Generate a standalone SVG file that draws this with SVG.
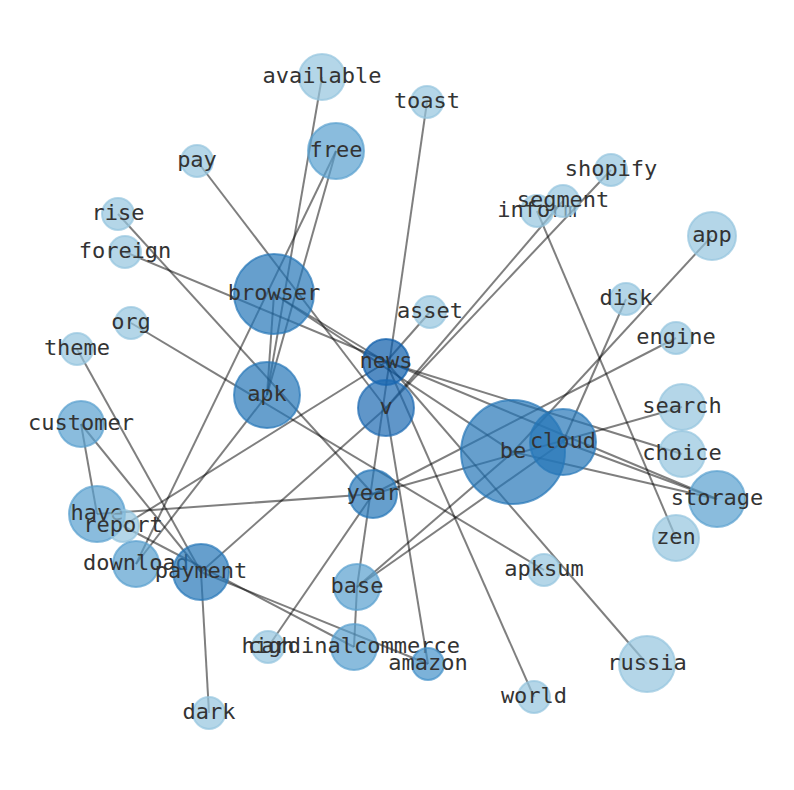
<svg xmlns="http://www.w3.org/2000/svg" width="794" height="790" viewBox="0 0 794 790">
<style>
.e{stroke:#000;stroke-opacity:0.5;stroke-width:2;fill:none}
.n circle{stroke-width:2;fill-opacity:0.7;stroke-opacity:0.7}
.l circle{fill:#94c4de;stroke:#94c4de}
.m circle{fill:#599fce;stroke:#599fce}
.a circle{fill:#4591c9;stroke:#4591c9}
.d circle{fill:#2576b8;stroke:#2576b8}
.v circle{fill:#1c6ab2;stroke:#1c6ab2}
.w circle{fill:#0a5ba9;stroke:#0a5ba9}
.n text{font-family:"DejaVu Sans Mono","Liberation Mono",monospace;font-size:22px;fill:#333;text-anchor:middle}
</style>
<rect width="794" height="790" fill="#fff"/>
<g id="edges" class="e">
<line x1="322" y1="77" x2="267" y2="395"/>
<line x1="274" y1="294" x2="267" y2="395"/>
<line x1="336" y1="151" x2="267" y2="395"/>
<line x1="336" y1="151" x2="136" y2="564"/>
<line x1="267" y1="395" x2="136" y2="564"/>
<line x1="197" y1="161" x2="386" y2="408"/>
<line x1="118" y1="214" x2="373" y2="494"/>
<line x1="131" y1="323" x2="544" y2="570"/>
<line x1="125" y1="252" x2="717" y2="499"/>
<line x1="427" y1="102" x2="357" y2="587"/>
<line x1="357" y1="587" x2="354" y2="647"/>
<line x1="386" y1="408" x2="428" y2="664"/>
<line x1="611" y1="170" x2="386" y2="408"/>
<line x1="563" y1="201" x2="386" y2="408"/>
<line x1="537" y1="211" x2="676" y2="538"/>
<line x1="712" y1="236" x2="513" y2="452"/>
<line x1="626" y1="299" x2="563" y2="442"/>
<line x1="676" y1="338" x2="373" y2="494"/>
<line x1="430" y1="312" x2="386" y2="362"/>
<line x1="386" y1="362" x2="682" y2="454"/>
<line x1="563" y1="442" x2="717" y2="499"/>
<line x1="513" y1="452" x2="717" y2="499"/>
<line x1="274" y1="294" x2="513" y2="452"/>
<line x1="274" y1="294" x2="386" y2="362"/>
<line x1="386" y1="362" x2="647" y2="664"/>
<line x1="386" y1="362" x2="534" y2="697"/>
<line x1="386" y1="362" x2="123" y2="526"/>
<line x1="386" y1="408" x2="201" y2="572"/>
<line x1="97" y1="514" x2="373" y2="494"/>
<line x1="373" y1="494" x2="682" y2="407"/>
<line x1="81" y1="424" x2="97" y2="514"/>
<line x1="81" y1="424" x2="201" y2="572"/>
<line x1="77" y1="349" x2="201" y2="572"/>
<line x1="201" y1="572" x2="209" y2="713"/>
<line x1="201" y1="572" x2="428" y2="664"/>
<line x1="123" y1="526" x2="354" y2="647"/>
<line x1="268" y1="647" x2="373" y2="494"/>
<line x1="357" y1="587" x2="513" y2="452"/>
<line x1="357" y1="587" x2="563" y2="442"/>
</g>
<g id="available" class="n l"><circle cx="322" cy="77" r="23"/><text x="322" y="83">available</text></g>
<g id="toast" class="n l"><circle cx="427" cy="102" r="16"/><text x="427" y="108">toast</text></g>
<g id="free" class="n m"><circle cx="336" cy="151" r="28"/><text x="336" y="157">free</text></g>
<g id="pay" class="n l"><circle cx="197" cy="161" r="16"/><text x="197" y="167">pay</text></g>
<g id="shopify" class="n l"><circle cx="611" cy="170" r="16"/><text x="611" y="176">shopify</text></g>
<g id="inform" class="n l"><circle cx="537" cy="211" r="16"/><text x="537" y="217">inform</text></g>
<g id="segment" class="n l"><circle cx="563" cy="201" r="16"/><text x="563" y="207">segment</text></g>
<g id="app" class="n l"><circle cx="712" cy="236" r="24"/><text x="712" y="242">app</text></g>
<g id="rise" class="n l"><circle cx="118" cy="214" r="16"/><text x="118" y="220">rise</text></g>
<g id="foreign" class="n l"><circle cx="125" cy="252" r="16"/><text x="125" y="258">foreign</text></g>
<g id="browser" class="n d"><circle cx="274" cy="294" r="40"/><text x="274" y="300">browser</text></g>
<g id="asset" class="n l"><circle cx="430" cy="312" r="16"/><text x="430" y="318">asset</text></g>
<g id="disk" class="n l"><circle cx="626" cy="299" r="16"/><text x="626" y="305">disk</text></g>
<g id="engine" class="n l"><circle cx="676" cy="338" r="16"/><text x="676" y="344">engine</text></g>
<g id="org" class="n l"><circle cx="131" cy="323" r="16"/><text x="131" y="329">org</text></g>
<g id="theme" class="n l"><circle cx="77" cy="349" r="16"/><text x="77" y="355">theme</text></g>
<g id="news" class="n w"><circle cx="386" cy="362" r="23"/><text x="386" y="368">news</text></g>
<g id="apk" class="n d"><circle cx="267" cy="395" r="33"/><text x="267" y="401">apk</text></g>
<g id="v" class="n v"><circle cx="386" cy="408" r="28"/><text x="386" y="414">v</text></g>
<g id="customer" class="n m"><circle cx="81" cy="424" r="23"/><text x="81" y="430">customer</text></g>
<g id="search" class="n l"><circle cx="682" cy="407" r="23"/><text x="682" y="413">search</text></g>
<g id="be" class="n d"><circle cx="513" cy="452" r="52"/><text x="513" y="458">be</text></g>
<g id="cloud" class="n d"><circle cx="563" cy="442" r="33"/><text x="563" y="448">cloud</text></g>
<g id="choice" class="n l"><circle cx="682" cy="454" r="23"/><text x="682" y="460">choice</text></g>
<g id="year" class="n d"><circle cx="373" cy="494" r="24"/><text x="373" y="500">year</text></g>
<g id="storage" class="n m"><circle cx="717" cy="499" r="28"/><text x="717" y="505">storage</text></g>
<g id="have" class="n m"><circle cx="97" cy="514" r="28"/><text x="97" y="520">have</text></g>
<g id="report" class="n l"><circle cx="123" cy="526" r="16"/><text x="123" y="532">report</text></g>
<g id="zen" class="n l"><circle cx="676" cy="538" r="23"/><text x="676" y="544">zen</text></g>
<g id="download" class="n m"><circle cx="136" cy="564" r="23"/><text x="136" y="570">download</text></g>
<g id="payment" class="n d"><circle cx="201" cy="572" r="28"/><text x="201" y="578">payment</text></g>
<g id="apksum" class="n l"><circle cx="544" cy="570" r="16"/><text x="544" y="576">apksum</text></g>
<g id="base" class="n m"><circle cx="357" cy="587" r="23"/><text x="357" y="593">base</text></g>
<g id="high" class="n l"><circle cx="268" cy="647" r="16"/><text x="268" y="653">high</text></g>
<g id="cardinalcommerce" class="n m"><circle cx="354" cy="647" r="23"/><text x="354" y="653">cardinalcommerce</text></g>
<g id="amazon" class="n a"><circle cx="428" cy="664" r="16"/><text x="428" y="670">amazon</text></g>
<g id="russia" class="n l"><circle cx="647" cy="664" r="28"/><text x="647" y="670">russia</text></g>
<g id="world" class="n l"><circle cx="534" cy="697" r="16"/><text x="534" y="703">world</text></g>
<g id="dark" class="n l"><circle cx="209" cy="713" r="16"/><text x="209" y="719">dark</text></g>
</svg>
